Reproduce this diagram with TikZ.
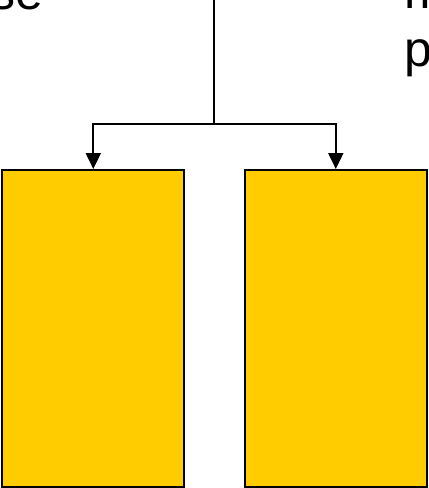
\documentclass[tikz,border=0pt]{standalone}
\usepackage{fontspec}
\setmainfont{Liberation Sans}
\usepackage{tikz}
\usetikzlibrary{arrows.meta}
\definecolor{partyellow}{HTML}{FFCC00}
\tikzset{
  part/.style={draw=black, line width=1pt, fill=partyellow, minimum width=91pt, minimum height=158.5pt, inner sep=0pt},
  link/.style={line width=1pt, -{Triangle[length=8pt,width=7.5pt]}},
  word/.style={font=\fontsize{25}{29}\selectfont, inner sep=0pt}
}

\begin{document}
\begin{tikzpicture}[x=0.5pt,y=-0.5pt]
		\useasboundingbox (0,0) rectangle (429,488);
		\clip (0,0) rectangle (429,488);
		\node[word, anchor=base east] (se) at (44,9) {se};
		\node[word, anchor=base west] (m) at (404,8) {m};
		\node[word, anchor=base west] (p) at (404,66) {p};
		\node[part] (L) at (93.3,328.5) {};
		\node[part] (R) at (335.8,328.5) {};
		\coordinate (T) at (214,0);
		\coordinate (J) at (214,124);
		\draw[line width=1pt]  (T) -- (J);
		\draw[link]  (J) -| (L.north);
		\draw[link]  (J) -| (R.north);
	\end{tikzpicture}
\end{document}
